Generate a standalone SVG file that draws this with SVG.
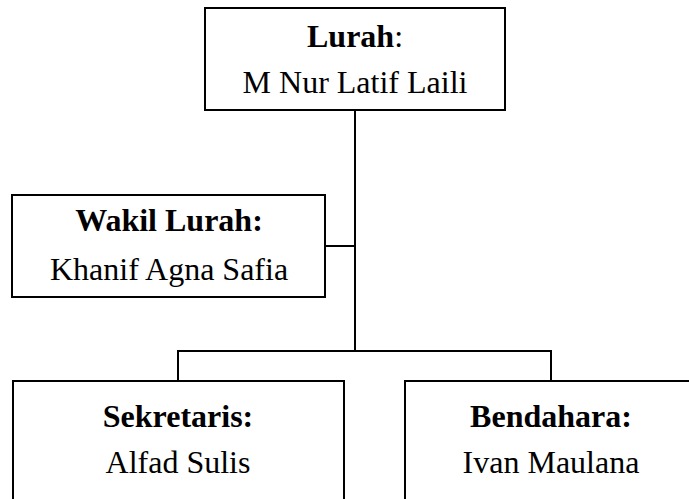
<svg xmlns="http://www.w3.org/2000/svg" width="689" height="499" viewBox="0 0 689 499">
<style>
.box{fill:#fff;stroke:#000;stroke-width:2}
.c{fill:none;stroke:#000;stroke-width:2}
text{font-family:"Liberation Serif","Times New Roman",serif;font-size:32px;fill:#000;text-anchor:middle}
.b{font-weight:bold}
</style>
<rect width="689" height="499" fill="#fff"/>
<g id="connectors">
<path class="c" d="M355,110 V351"/>
<path class="c" d="M325,246 H355"/>
<path class="c" d="M178,381 V351 H551 V381"/>
</g>
<g id="lurah">
<rect class="box" x="205" y="8" width="300" height="102"/>
<text x="355" y="47"><tspan class="b">Lurah</tspan>:</text>
<text x="355" y="93">M Nur Latif Laili</text>
</g>
<g id="wakil">
<rect class="box" x="12" y="195" width="313" height="102"/>
<text x="169" y="231" class="b">Wakil Lurah:</text>
<text x="169" y="280">Khanif Agna Safia</text>
</g>
<g id="sekretaris">
<rect class="box" x="13" y="381" width="331" height="130"/>
<text x="178" y="427" class="b">Sekretaris:</text>
<text x="178" y="473">Alfad Sulis</text>
</g>
<g id="bendahara">
<rect class="box" x="405" y="381" width="300" height="130"/>
<text x="551" y="427" class="b">Bendahara:</text>
<text x="551" y="473">Ivan Maulana</text>
</g>
</svg>
